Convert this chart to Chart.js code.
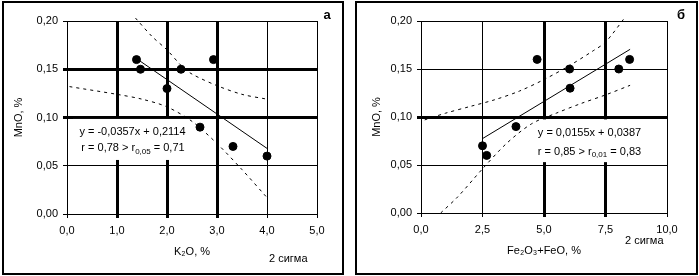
<!DOCTYPE html>
<html lang="ru">
<head>
<meta charset="UTF-8">
<title>MnO – K2O, Fe2O3+FeO</title>
<script src="https://cdn.jsdelivr.net/npm/chart.js"></script>
<style>
  body { margin: 0; background: #fff; }
  .panel { position: absolute; top: 1px; border: 2px solid #000; width: 338px; height: 270px; }
  #boxA { left: 2px; }
  #boxB { left: 355px; width: 339px; }
  canvas { display: block; }
</style>
</head>
<body>
<div class="panel" id="boxA"><canvas id="chartA"></canvas></div>
<div class="panel" id="boxB"><canvas id="chartB"></canvas></div>
<script>
// панель а: MnO от K2O
const kX = [1.39, 1.47, 2.0, 2.28, 2.93, 2.66, 3.32, 4.0];
const kY = [0.16, 0.15, 0.13, 0.15, 0.16, 0.09, 0.07, 0.06];
const kFitX = [1.39, 4.0];
const kFitY = [0.161, 0.068];
const kUpX = [1.37, 1.7, 2.0, 2.3, 2.5, 3.0, 3.5, 4.0];
const kUpY = [0.203, 0.184, 0.170, 0.153, 0.145, 0.133, 0.124, 0.119];
const kLoX = [0.05, 1.0, 1.5, 2.0, 2.5, 3.0, 3.5, 4.0];
const kLoY = [0.132, 0.124, 0.119, 0.111, 0.096, 0.073, 0.046, 0.017];
const kTicksX = [0, 1, 2, 3, 4, 5];

// панель б: MnO от Fe2O3+FeO
const fX = [2.5, 2.67, 3.86, 4.72, 6.04, 6.06, 8.04, 8.48];
const fY = [0.07, 0.06, 0.09, 0.16, 0.15, 0.13, 0.15, 0.16];
const fFitX = [2.5, 8.5];
const fFitY = [0.0775, 0.1705];
const fUpX = [0.15, 1.0, 2.0, 3.0, 4.0, 5.0, 6.0, 7.0, 7.5, 8.3];
const fUpY = [0.097, 0.104, 0.111, 0.118, 0.127, 0.139, 0.153, 0.169, 0.178, 0.204];
const fLoX = [0.8, 1.5, 2.5, 3.5, 4.5, 5.5, 6.5, 7.5, 8.5];
const fLoY = [0.0, 0.017, 0.046, 0.073, 0.093, 0.104, 0.114, 0.123, 0.133];
const fTicksX = [0, 2.5, 5, 7.5, 10];

const yTicks = [0, 0.05, 0.10, 0.15, 0.20];

const FONT = 'Liberation Sans, Arial, sans-serif';
const pts = (xs, ys) => xs.map((x, i) => ({ x: x, y: ys[i] }));
const near = (v, list) => list.some(t => Math.abs(v - t) < 1e-6);

// подписи: уравнение, r, буква панели, "2 сигма", названия осей
const textPlugin = {
  id: 'texts',
  beforeDatasetsDraw(chart) {
    // белая подложка под уравнением закрывает сетку
    const o = chart.options.plugins.texts;
    const sx = chart.scales.x, sy = chart.scales.y;
    const x0 = sx.getPixelForValue(o.box[0]), x1 = sx.getPixelForValue(o.box[1]);
    const y0 = sy.getPixelForValue(o.box[2]), y1 = sy.getPixelForValue(o.box[3]);
    chart.ctx.save();
    chart.ctx.fillStyle = '#fff';
    chart.ctx.fillRect(x0, y0, x1 - x0, y1 - y0);
    chart.ctx.restore();
  },
  afterDraw(chart) {
    const o = chart.options.plugins.texts;
    const ctx = chart.ctx;
    const a = chart.chartArea;
    const sx = chart.scales.x, sy = chart.scales.y;
    ctx.save();
    ctx.fillStyle = '#000';
    ctx.textBaseline = 'middle';
    ctx.font = '11px ' + FONT;

    ctx.textAlign = 'center';
    ctx.fillText(o.eq, sx.getPixelForValue(o.eqAt[0]), sy.getPixelForValue(o.eqAt[1]));

    // строка r с нижним индексом
    const parts = [['r = ' + o.r + ' > r', 11, 0], [o.rSub, 8, 3], [' = ' + o.rCrit, 11, 0]];
    let w = 0;
    parts.forEach(p => { ctx.font = p[1] + 'px ' + FONT; w += ctx.measureText(p[0]).width; });
    let x = sx.getPixelForValue(o.rAt[0]) - w / 2;
    const y = sy.getPixelForValue(o.rAt[1]);
    ctx.textAlign = 'left';
    parts.forEach(p => {
      ctx.font = p[1] + 'px ' + FONT;
      ctx.fillText(p[0], x, y + p[2]);
      x += ctx.measureText(p[0]).width;
    });

    ctx.font = '11px ' + FONT;
    ctx.textAlign = 'center';
    ctx.fillText(o.xTitle, (a.left + a.right) / 2, a.bottom + 38);
    ctx.textAlign = 'left';
    ctx.fillText('2 сигма', a.right + o.sigma[0], a.bottom + o.sigma[1]);

    ctx.font = 'bold 13px ' + FONT;
    ctx.textAlign = 'center';
    ctx.fillText(o.letter, a.right + o.letterAt, 12);

    ctx.font = '11px ' + FONT;
    ctx.translate(a.left - o.yTitleOff, (a.top + a.bottom) / 2);
    ctx.rotate(-Math.PI / 2);
    ctx.fillText('MnO, %', 0, 0);
    ctx.restore();
  }
};

function makeChart(id, w, h, cfg) {
  const canvas = document.getElementById(id);
  canvas.width = w;
  canvas.height = h;
  return new Chart(canvas.getContext('2d'), {
    type: 'scatter',
    data: {
      datasets: [
        { data: pts(cfg.upX, cfg.upY), showLine: true, borderColor: '#000', borderWidth: 1,
          borderDash: [3, 4], pointRadius: 0, tension: 0.3, clip: false },
        { data: pts(cfg.loX, cfg.loY), showLine: true, borderColor: '#000', borderWidth: 1,
          borderDash: [3, 4], pointRadius: 0, tension: 0.3, clip: false },
        { data: pts(cfg.fitX, cfg.fitY), showLine: true, borderColor: '#000', borderWidth: 1,
          pointRadius: 0 },
        { data: pts(cfg.px, cfg.py), backgroundColor: '#000', borderColor: '#000',
          pointRadius: 4, pointHoverRadius: 4 }
      ]
    },
    options: {
      responsive: false,
      animation: false,
      layout: { padding: { left: 0, top: 18, right: cfg.padRight, bottom: 0 } },
      plugins: {
        legend: { display: false },
        tooltip: { enabled: false },
        texts: cfg.texts
      },
      scales: {
        x: {
          type: 'linear', min: 0, max: cfg.xMax,
          afterFit: s => { s.height = cfg.xAxisH; },
          afterBuildTicks: s => { s.ticks = cfg.xTicks.map(v => ({ value: v })); },
          border: { display: true, color: '#000', width: 1 },
          grid: {
            color: '#000', tickLength: 4, tickColor: '#000',
            lineWidth: c => (c.tick && near(c.tick.value, cfg.thickX)) ? 3 : 1
          },
          ticks: {
            color: '#000', padding: 6, font: { family: FONT, size: 11 },
            maxRotation: 0,
            callback: v => v.toFixed(1).replace('.', ',')
          }
        },
        y: {
          type: 'linear', min: 0, max: 0.2,
          afterFit: s => { s.width = cfg.yAxisW; },
          afterBuildTicks: s => { s.ticks = yTicks.map(v => ({ value: v })); },
          border: { display: true, color: '#000', width: 1 },
          grid: {
            color: '#000', tickLength: 4, tickColor: '#000',
            lineWidth: c => (c.tick && near(c.tick.value, cfg.thickY)) ? 3 : 1
          },
          ticks: {
            color: '#000', padding: 5, font: { family: FONT, size: 11 },
            callback: v => v.toFixed(2).replace('.', ',')
          }
        }
      }
    },
    plugins: [textPlugin]
  });
}

makeChart('chartA', 338, 270, {
  px: kX, py: kY, fitX: kFitX, fitY: kFitY, upX: kUpX, upY: kUpY, loX: kLoX, loY: kLoY,
  xMax: 5, xTicks: kTicksX, thickX: [1, 2, 3], thickY: [0.10, 0.15],
  yAxisW: 63, xAxisH: 59, padRight: 25,
  texts: {
    eq: 'y = -0,0357x + 0,2114', eqAt: [1.31, 0.085],
    r: '0,78', rSub: '0,05', rCrit: '0,71', rAt: [1.32, 0.068],
    box: [0.12, 2.47, 0.0985, 0.056],
    xTitle: 'K\u2082O, %', sigma: [-48, 45], letter: 'а', letterAt: 10, yTitleOff: 48
  }
});

makeChart('chartB', 339, 270, {
  px: fX, py: fY, fitX: fFitX, fitY: fFitY, upX: fUpX, upY: fUpY, loX: fLoX, loY: fLoY,
  xMax: 10, xTicks: fTicksX, thickX: [5, 7.5], thickY: [0.10],
  yAxisW: 64, xAxisH: 60, padRight: 29,
  texts: {
    eq: 'y = 0,0155x + 0,0387', eqAt: [6.85, 0.083],
    r: '0,85', rSub: '0,01', rCrit: '0,83', rAt: [6.85, 0.064],
    box: [4.6, 9.1, 0.0975, 0.053],
    xTitle: 'Fe\u2082O\u2083+FeO, %', sigma: [-42, 28], letter: 'б', letterAt: 14, yTitleOff: 44
  }
});
</script>
</body>
</html>
